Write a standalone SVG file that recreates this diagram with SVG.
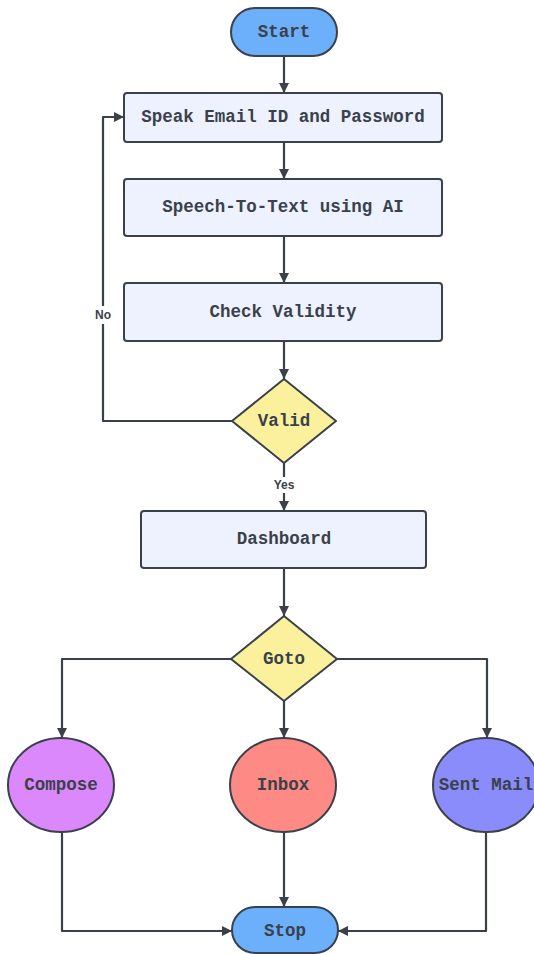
<svg xmlns="http://www.w3.org/2000/svg" width="534" height="954" viewBox="0 0 534 954">
<defs>
<marker id="arr" viewBox="0 0 10 10" refX="10" refY="5" markerWidth="10" markerHeight="10" markerUnits="userSpaceOnUse" orient="auto">
<path d="M0,0 L10,5 L0,10 Z" fill="#3a414a"/>
</marker>
<style>
.lbl{font-family:"Liberation Mono","Courier New",monospace;font-weight:bold;font-size:17.5px;fill:#3a414a;text-anchor:middle;dominant-baseline:central}
.sm{font-family:"Liberation Sans",Arial,sans-serif;font-weight:bold;font-size:12px;fill:#3a414a;text-anchor:middle;dominant-baseline:central}
.edge{fill:none;stroke:#3a414a;stroke-width:2.2;stroke-linejoin:round}
.sh{stroke:#3a414a;stroke-width:2}
.box{fill:#edf2fe}
.term{fill:#6cb0fb}
.dia{fill:#fbf09c}
</style>
</defs>
<rect width="534" height="954" fill="#ffffff"/>
<g id="connectors">
<path class="edge" d="M284,56 V93" marker-end="url(#arr)"/>
<path class="edge" d="M284,142 V179" marker-end="url(#arr)"/>
<path class="edge" d="M284,236 V283" marker-end="url(#arr)"/>
<path class="edge" d="M284,341 V379" marker-end="url(#arr)"/>
<path class="edge" d="M232,421 H103 V117 H124" marker-end="url(#arr)"/>
<path class="edge" d="M284,463 V511" marker-end="url(#arr)"/>
<path class="edge" d="M284,568 V616" marker-end="url(#arr)"/>
<path class="edge" d="M231,659 H62 V738" marker-end="url(#arr)"/>
<path class="edge" d="M284,701 V738" marker-end="url(#arr)"/>
<path class="edge" d="M337,659 H487 V738" marker-end="url(#arr)"/>
<path class="edge" d="M62,832 V931 H232" marker-end="url(#arr)"/>
<path class="edge" d="M284,832 V907" marker-end="url(#arr)"/>
<path class="edge" d="M486,832 V931 H338" marker-end="url(#arr)"/>
<rect x="92" y="306" width="22" height="18" fill="#ffffff"/>
<text class="sm" x="103" y="315">No</text>
<rect x="268" y="477" width="32" height="16" fill="#ffffff"/>
<text class="sm" x="284" y="485">Yes</text>
</g>
<g id="start">
<rect class="term sh" x="231" y="8" width="106" height="48" rx="24"/>
<text class="lbl" x="284" y="32">Start</text>
</g>
<g id="speak">
<rect class="box sh" x="124" y="93" width="318" height="49" rx="3"/>
<text class="lbl" x="283" y="117">Speak Email ID and Password</text>
</g>
<g id="stt">
<rect class="box sh" x="124" y="179" width="318" height="57" rx="3"/>
<text class="lbl" x="283" y="207">Speech-To-Text using AI</text>
</g>
<g id="check">
<rect class="box sh" x="124" y="283" width="318" height="58" rx="3"/>
<text class="lbl" x="283" y="312">Check Validity</text>
</g>
<g id="valid">
<path class="dia sh" d="M284,379 L336,421 L284,463 L232,421 Z" stroke-linejoin="round"/>
<text class="lbl" x="284" y="421">Valid</text>
</g>
<g id="dashboard">
<rect class="box sh" x="141" y="511" width="285" height="57" rx="3"/>
<text class="lbl" x="284" y="539">Dashboard</text>
</g>
<g id="goto">
<path class="dia sh" d="M284,616 L337,659 L284,701 L231,659 Z" stroke-linejoin="round"/>
<text class="lbl" x="284" y="659">Goto</text>
</g>
<g id="compose">
<ellipse class="sh" fill="#da88fb" cx="61" cy="785" rx="53" ry="47"/>
<text class="lbl" x="61" y="785">Compose</text>
</g>
<g id="inbox">
<ellipse class="sh" fill="#fd8a84" cx="283" cy="785" rx="53" ry="47"/>
<text class="lbl" x="283" y="785">Inbox</text>
</g>
<g id="sentmail">
<ellipse class="sh" fill="#8b8cfb" cx="486" cy="785" rx="53" ry="47"/>
<text class="lbl" x="486" y="785">Sent Mail</text>
</g>
<g id="stop">
<rect class="term sh" x="232" y="907" width="106" height="46" rx="23"/>
<text class="lbl" x="285" y="931">Stop</text>
</g>
</svg>
